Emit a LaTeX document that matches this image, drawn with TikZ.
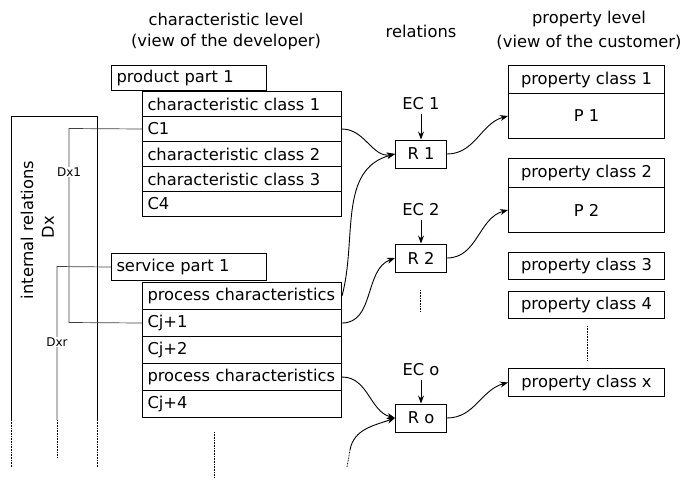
\documentclass[tikz,border=0pt]{standalone}
\usepackage{fontspec}
\setmainfont{DejaVu Sans}
\usetikzlibrary{arrows.meta}
\begin{document}
\begin{tikzpicture}[x=1pt,y=-1pt,
  every node/.style={font=\fontsize{16.3}{19}\selectfont},
  box/.style={draw,line width=1pt,inner sep=0pt},
  crow/.style={box,anchor=north west,minimum width=199pt,text width=189pt,inner xsep=5pt,align=left},
  prow/.style={box,anchor=north west,minimum width=156pt,align=center},
  rbox/.style={box,minimum width=51pt,minimum height=28pt},
  part/.style={box,anchor=north west,minimum width=155pt,text width=145pt,inner xsep=5pt,align=left},
  conn/.style={line width=0.9pt,-{Stealth[length=8pt,width=6pt]}},
  thin/.style={line width=0.7pt,draw=black!75},
  dots/.style={line width=0.8pt,dash pattern=on 0.8pt off 0.8pt},
  small/.style={font=\fontsize{12}{14}\selectfont,fill=white,inner sep=1pt}]
\useasboundingbox (0,0) rectangle (699,499);

% headers
\node (h1) at (226,19) {characteristic level};
\node (h2) at (226,42) {(view of the developer)};
\node (h3) at (421,31) {relations};
\node (h4) at (589,19) {property level};
\node (h5) at (589,42) {(view of the customer)};

% product part
\node[part,minimum height=25pt] (pp) at (111,65) {product part 1};
\node[crow,minimum height=25pt] (cc1) at (142,91) {characteristic class 1};
\node[crow,minimum height=25pt] (c1) at (142,116) {C1};
\node[crow,minimum height=25pt] (cc2) at (142,141) {characteristic class 2};
\node[crow,minimum height=25pt] (cc3) at (142,166) {characteristic class 3};
\node[crow,minimum height=25pt] (c4) at (142,191) {C4};

% service part
\node[part,minimum height=27pt] (sp) at (111,253) {service part 1};
\node[crow,minimum height=27pt] (pc1) at (142,282) {process characteristics};
\node[crow,minimum height=27pt] (cj1) at (142,309) {Cj+1};
\node[crow,minimum height=27pt] (cj2) at (142,336) {Cj+2};
\node[crow,minimum height=27pt] (pc2) at (142,363) {process characteristics};
\node[crow,minimum height=27pt] (cj4) at (142,390) {Cj+4};
\draw[dots] (214,432) -- (214,477);

% internal relations
\draw[line width=1pt] (11,420) -- (11,116) -- (97,116) -- (97,420);
\draw[dots] (11,420) -- (11,467);
\draw[dots] (97,420) -- (97,467);
\node[rotate=90] (ir) at (27,230) {internal relations};
\node[rotate=90] (dx) at (48,227) {Dx};

\coordinate (d1a) at (69,128.5);
\coordinate (d1b) at (69,322.5);
\draw[thin] (c1.west) -- (d1a) -- (d1b) -- (cj1.west);
\node[small] (dx1) at (69,172) {Dx1};
\coordinate (dra) at (57,266.5);
\coordinate (drb) at (57,420);
\coordinate (drc) at (57,458);
\draw[thin] (sp.west) -- (dra) -- (drb);
\draw[dots,line width=0.7pt] (drb) -- (drc);
\node[small] (dxr) at (57,342) {Dxr};

% relations
\node[rbox] (r1) at (421,154) {R 1};
\node[rbox] (r2) at (421,258) {R 2};
\node[rbox] (ro) at (421,418) {R o};
\node (ec1) at (421,104) {EC 1};
\node (ec2) at (421,210) {EC 2};
\node (eco) at (421,370) {EC o};
\draw[conn] (ec1.south) -- (r1.north);
\draw[conn] (ec2.south) -- (r2.north);
\draw[conn] (eco.south) -- (ro.north);
\draw[dots] (420,290) -- (420,312);

% properties
\node[prow,minimum height=28pt] (pch1) at (508,65) {property class 1};
\node[prow,minimum height=45pt] (p1) at (508,93) {P 1};
\node[prow,minimum height=29pt] (pch2) at (508,158) {property class 2};
\node[prow,minimum height=45pt] (p2) at (508,187) {P 2};
\node[prow,minimum height=27pt] (pc3) at (508,252) {property class 3};
\node[prow,minimum height=27pt] (pc4) at (508,291) {property class 4};
\draw[dots] (587,326) -- (587,361);
\node[prow,minimum height=28pt] (pcx) at (508,368) {property class x};

% connectors
\draw[conn] (c1.east) to[out=0,in=190] (r1.west);
\draw[conn] (pc1.east) to[out=75,in=195] (r1.west);
\draw[conn] (cj1.east) to[out=0,in=200] (r2.west);
\draw[conn] (pc2.east) to[out=0,in=165] (ro.west);
\coordinate (q0) at (347,467);
\coordinate (q1) at (350,450);
\draw[dots] (q0) -- (q1);
\draw[conn] (q1) to[out=80,in=200] (ro.west);
\draw[conn] (r1.east) to[out=0,in=195] (p1.west);
\draw[conn] (r2.east) to[out=0,in=195] (p2.west);
\draw[conn] (ro.east) to[out=0,in=195] (pcx.west);
\end{tikzpicture}
\end{document}
